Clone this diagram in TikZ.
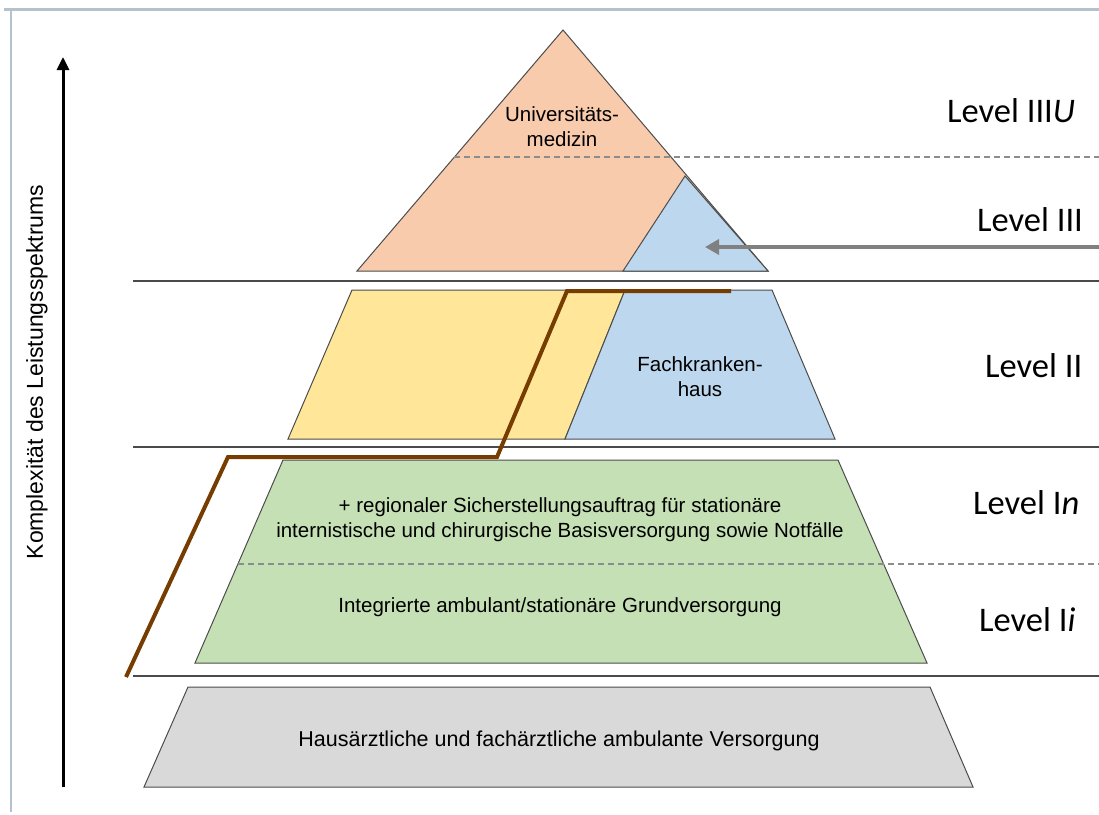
\documentclass[tikz,border=0pt]{standalone}
\usepackage{fontspec}
\setmainfont{Liberation Sans}
\newfontfamily\levelfont{Carlito}
\usetikzlibrary{arrows.meta}
\definecolor{peach}{HTML}{F8CBAD}
\definecolor{lblue}{HTML}{BDD7EE}
\definecolor{lyellow}{HTML}{FFE699}
\definecolor{lgreen}{HTML}{C5E0B4}
\definecolor{lgray}{HTML}{D9D9D9}
\definecolor{brownline}{HTML}{763C00}
\definecolor{framec}{HTML}{B4C2CD}
\definecolor{sepc}{HTML}{4A4A4A}
\begin{document}
\begin{tikzpicture}[x=1pt,y=-1pt,
  shapeline/.style={draw=black!70, line width=1pt, line join=miter},
  sepline/.style={draw=sepc, line width=2pt},
  dashline/.style={draw=black!45, line width=2pt, dash pattern=on 6pt off 4pt},
  boxtext/.style={font=\fontsize{20.5}{25}\selectfont, align=center, text=black, inner sep=0pt},
  leveltext/.style={font=\levelfont\fontsize{34.5}{40}\selectfont, anchor=base west, inner sep=0pt, text=black},
]
\useasboundingbox (0,0) rectangle (1099,814);
\fill[white] (0,0) rectangle (1099,814);
% frame
\draw[framec, line width=3pt] (4,9) -- (1099,9);
\draw[framec, line width=2pt] (11,9) -- (11,812);

% top triangle (Level III / IIIU)
\filldraw[fill=peach, shapeline] (563,30) -- (768,271) -- (357,271) -- cycle;
\filldraw[fill=lblue, shapeline] (685,176) -- (768,271) -- (623,271) -- cycle;
\draw[dashline] (454,157) -- (1099,157);

% level II
\filldraw[fill=lyellow, shapeline] (352,290) -- (625,290) -- (565,439) -- (288,439) -- cycle;
\filldraw[fill=lblue, shapeline] (625,290) -- (772,290) -- (835,439) -- (565,439) -- cycle;

% level I
\filldraw[fill=lgreen, shapeline] (283,460) -- (838,460) -- (927,663) -- (195,663) -- cycle;
\draw[dashline] (238,564) -- (1099,564);

% base
\filldraw[fill=lgray, shapeline] (188,687) -- (930,687) -- (973,787) -- (144,787) -- cycle;

% separators
\draw[sepline] (133,281) -- (1099,281);
\draw[sepline] (133,447) -- (1099,447);
\draw[sepline] (133,676) -- (1099,676);

% brown line
\coordinate (b1) at (126,677);
\coordinate (b2) at (228,457);
\coordinate (b3) at (497,457);
\coordinate (b4) at (567,291);
\coordinate (b5) at (731,291);
\draw[brownline, line width=4pt, line join=miter] (b1) -- (b2) -- (b3) -- (b4) -- (b5);

% gray arrow
\coordinate (gaS) at (1099,247);
\coordinate (gaE) at (705,247);
\draw[black!50, line width=3.5pt, -{Triangle[length=14pt,width=15pt]}] (gaS) -- (gaE);

% axis
\coordinate (axB) at (63,787);
\coordinate (axT) at (63,57);
\draw[black, line width=3pt, -{Triangle[length=13pt,width=12pt]}] (axB) -- (axT);
\node[rotate=90, font=\fontsize{23}{28}\selectfont, inner sep=0pt, text=black] (axlabel) at (37,372) {Komplexität des Leistungsspektrums};

% texts in shapes
\node[boxtext] (uni) at (562,127) {Universitäts-\\medizin};
\node[boxtext] (fach) at (700,377) {Fachkranken-\\haus};
\node[boxtext] (regional) at (560,520) {+ regionaler Sicherstellungsauftrag für stationäre\\internistische und chirurgische Basisversorgung sowie Notfälle};
\node[boxtext] (integ) at (560,607) {Integrierte ambulant/stationäre Grundversorgung};
\node[boxtext, font=\fontsize{21.5}{26}\selectfont] (haus) at (559,741) {Hausärztliche und fachärztliche ambulante Versorgung};

% level labels
\node[leveltext] (l3u) at (947,122) {Level III\textit{U}};
\node[leveltext] (l3) at (977,231) {Level III};
\node[leveltext] (l2) at (985,377) {Level II};
\node[leveltext] (l1n) at (973,514) {Level I\textit{n}};
\node[leveltext] (l1i) at (979,631) {Level I\textit{i}};
\end{tikzpicture}
\end{document}
